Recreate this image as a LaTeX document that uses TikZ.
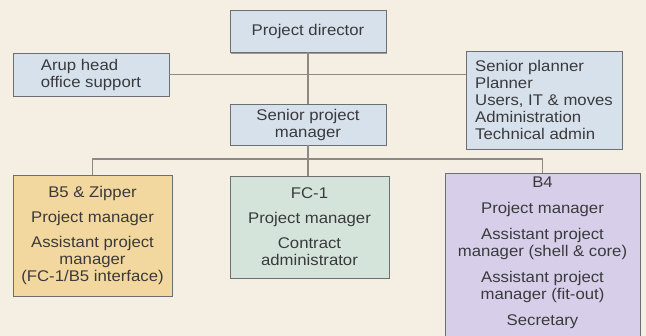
\documentclass[tikz,border=0pt]{standalone}
\usepackage{fontspec}
\setmainfont[FakeStretch=1.08]{Liberation Sans}
\usetikzlibrary{shadows}

\definecolor{paper}{HTML}{F5EEE3}
\definecolor{ink}{HTML}{3A3A3C}
\definecolor{boxline}{HTML}{6E6F73}
\definecolor{wire}{HTML}{8E8984}
\definecolor{paleblue}{HTML}{D6E1EC}
\definecolor{sand}{HTML}{F2D89E}
\definecolor{sage}{HTML}{D4E4DA}
\definecolor{lilac}{HTML}{D7CFEA}

\tikzset{
  orgbox/.style={draw=boxline, line width=0.9pt, inner sep=0pt, text=ink,
    font=\fontsize{15.5}{17}\selectfont},
  bluebox/.style={orgbox, fill=paleblue},
  liftshadow/.style={drop shadow={shadow xshift=1.4pt, shadow yshift=-1.6pt,
    fill=black, opacity=0.35}},
  listtext/.style={text=ink, inner sep=0pt, align=center,
    font=\fontsize{15.5}{17}\selectfont},
  link/.style={draw=wire, line width=1.1pt}
}

\begin{document}
\begin{tikzpicture}[x=1pt, y=-1pt]
  % page
  \fill[paper] (0,0) rectangle (646,336);
  \useasboundingbox (0,0) rectangle (646,336);

  % upper tier
  \node[bluebox, liftshadow, minimum width=156pt, minimum height=42pt]
    (dir) at (308,31) {Project director};
  \node[bluebox, minimum width=156pt, minimum height=43pt, align=left]
    (arup) at (91,74.5) {Arup head\\office support};
  \node[bluebox, minimum width=156pt, minimum height=98pt, align=left]
    (staff) at (544,100) {Senior planner\\Planner\\Users, IT \& moves\\Administration\\Technical admin};
  \node[bluebox, minimum width=156pt, minimum height=41pt, align=center]
    (spm) at (308,124.5) {Senior project\\manager};

  % project teams
  \node[orgbox, fill=sand, minimum width=159pt, minimum height=121pt, align=center]
    (b5) at (92.5,235.5)
    {B5 \& Zipper\\[8pt]Project manager\\[8pt]Assistant project\\manager\\(FC-1/B5 interface)};
  \node[orgbox, fill=sage, minimum width=159pt, minimum height=102pt, align=center]
    (fc1) at (309.5,227)
    {FC-1\\[8pt]Project manager\\[8pt]Contract\\administrator};
  \node[orgbox, fill=lilac, minimum width=195pt, minimum height=167pt]
    (b4) at (542.5,256.5) {};
  \node[listtext] (b4list) at (542.5,253)
    {B4\\[9pt]Project manager\\[9pt]Assistant project\\manager (shell \& core)\\[9pt]Assistant project\\manager (fit-out)\\[9pt]Secretary};

  % reporting lines
  \coordinate (bus) at (0,159);
  \draw[link] (dir.south) -- (spm.north);
  \draw[link] (arup.east) -- (arup.east -| staff.west);
  \draw[link] (spm.south) -- (spm.south |- fc1.north);
  \draw[link] (b5.north) -- (b5.north |- bus) -- (b4.north |- bus) -- (b4.north);
\end{tikzpicture}
\end{document}
